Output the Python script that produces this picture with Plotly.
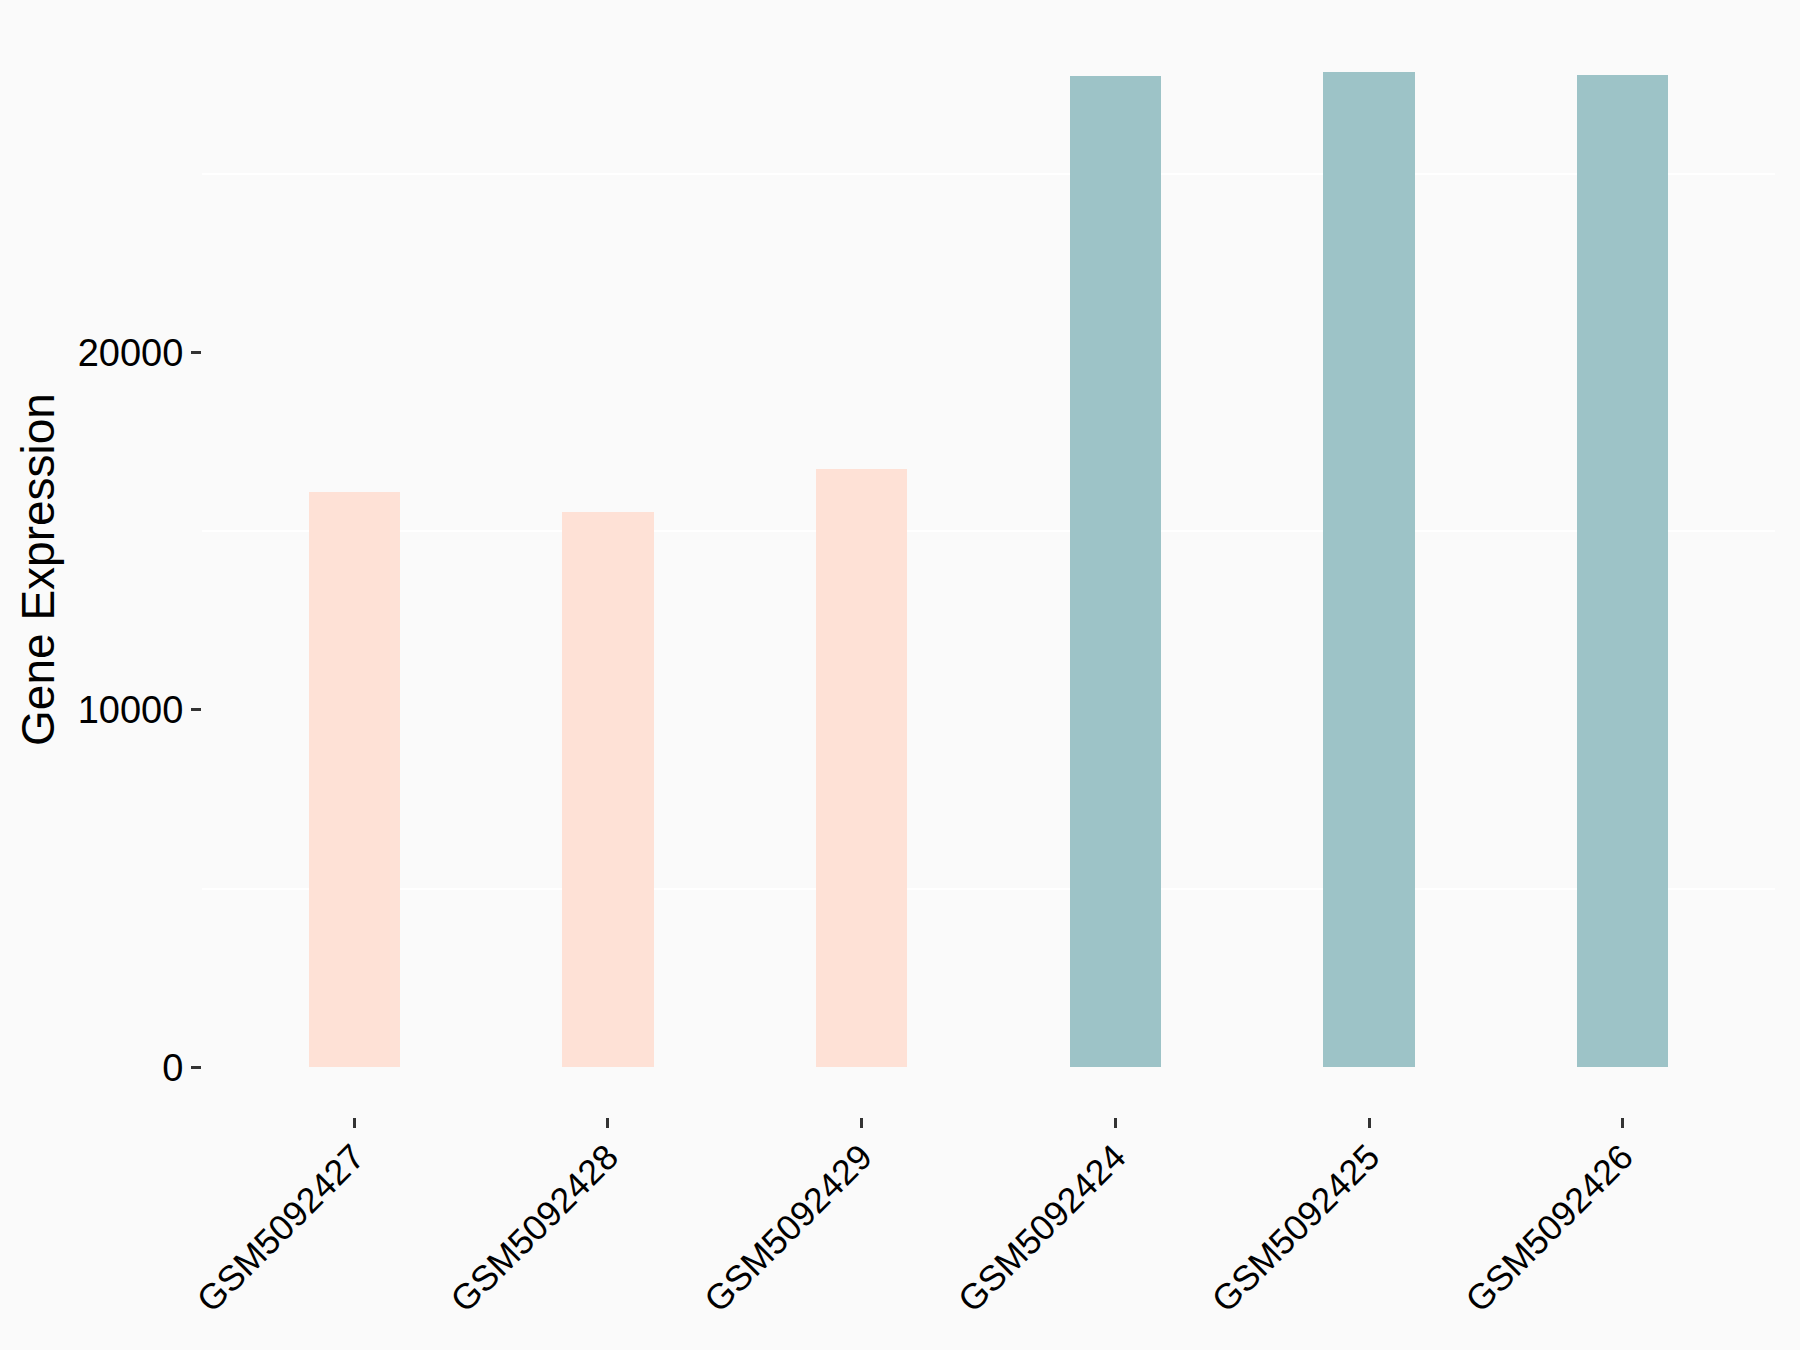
import plotly.graph_objects as go

samples = ["GSM5092427", "GSM5092428", "GSM5092429", "GSM5092424", "GSM5092425", "GSM5092426"]
expression = [16100, 15530, 16740, 27740, 27850, 27760]
groups = ["A", "A", "A", "B", "B", "B"]
group_colors = {"A": "#FEE1D6", "B": "#9DC3C7"}
y_tick_vals = [0, 10000, 20000]
y_minor_grid = [5000, 15000, 25000]

FONT = "Liberation Sans, Arial, sans-serif"
ymax = max(expression)
yrange = [-0.05 * ymax, 1.05 * ymax]

fig = go.Figure()
fig.add_trace(go.Bar(
    x=samples,
    y=expression,
    width=0.36,
    marker=dict(color=[group_colors[g] for g in groups], line=dict(width=0)),
    showlegend=False,
))
# invisible helper trace on overlay axis for the faint grid lines
fig.add_trace(go.Scatter(x=[samples[0]], y=[0], yaxis="y2", mode="markers",
                         marker=dict(opacity=0), showlegend=False, hoverinfo="skip"))

fig.update_layout(
    width=1800, height=1350,
    paper_bgcolor="#FAFAFA", plot_bgcolor="#FAFAFA",
    margin=dict(l=202, r=25, t=22, b=233, autoexpand=False),
    font=dict(family=FONT, color="black", size=36),
    xaxis=dict(
        range=[-0.6, 5.6], showgrid=False, zeroline=False, showline=False,
        ticks="outside", ticklen=10, tickwidth=3, tickcolor="#333333",
        tickangle=-45, tickfont=dict(size=35.5, family=FONT, color="black"),
        ticklabelstandoff=-6,
    ),
    yaxis=dict(
        range=yrange, tickvals=y_tick_vals, ticktext=[str(v) for v in y_tick_vals],
        showgrid=False, zeroline=False, showline=False,
        ticks="outside", ticklen=10, tickwidth=3, tickcolor="#333333",
        tickfont=dict(size=38, family=FONT, color="black"),
        title=dict(text="Gene Expression", font=dict(size=46, family=FONT, color="black"), standoff=8),
    ),
    yaxis2=dict(
        overlaying="y", range=yrange, tickvals=y_minor_grid, showticklabels=False,
        showgrid=True, gridcolor="#FFFFFF", gridwidth=2, zeroline=False, ticks="",
        layer="below traces",
    ),
    bargap=0,
)

fig.write_html(
    "out.html",
    config={"displayModeBar": False},
    post_script="document.body.style.margin='0';document.body.style.background='#FAFAFA';",
)
